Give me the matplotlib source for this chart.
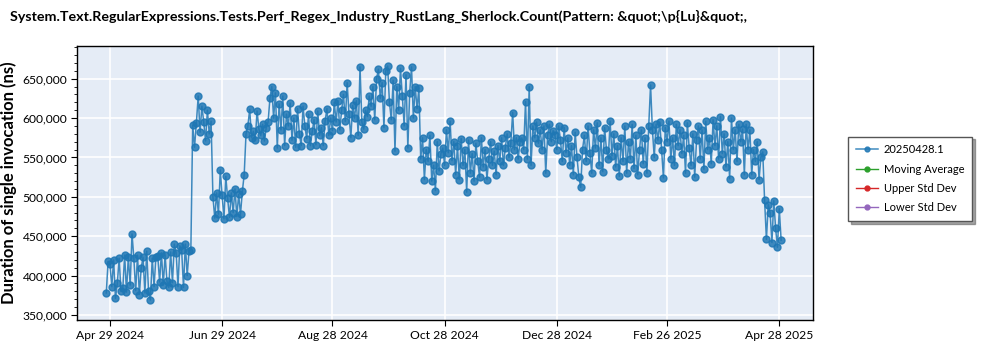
import matplotlib
matplotlib.use("Agg")
import matplotlib.pyplot as plt
import matplotlib.dates as mdates
from matplotlib.ticker import FuncFormatter, MultipleLocator
import pandas as pd

plt.rcParams['font.family'] = ['Lato', 'DejaVu Sans']

title = "System.Text.RegularExpressions.Tests.Perf_Regex_Industry_RustLang_Sherlock.Count(Pattern: &quot;\\p{Lu}&quot;,"
y_label = "Duration of single invocation (ns)"
series_names = ["20250428.1", "Moving Average", "Upper Std Dev", "Lower Std Dev"]
series_colors = ["#1f77b4", "#2ca02c", "#d62728", "#9467bd"]
first_day = "2024-04-27"
tick_dates = ["2024-04-29", "2024-06-29", "2024-08-28", "2024-10-28",
              "2024-12-28", "2025-02-26", "2025-04-28"]

duration_ns = [
    # Apr 27 - Jun 12 2024
    378000, 418000, 415000, 386000, 420000, 371000, 390000, 422000, 380000, 384000,
    426000, 379000, 424000, 388000, 453000, 422000, 381000, 426000, 376000, 410000,
    423000, 378000, 431000, 380000, 369000, 422000, 386000, 424000, 425000, 392000,
    429000, 388000, 426000, 393000, 385000, 430000, 391000, 440000, 429000, 386000,
    438000, 432000, 385000, 440000, 400000, 431000, 433000,
    # Jun 13 - Jun 23
    591000, 563000, 594000, 628000, 582000, 615000, 595000, 571000, 610000, 580000, 596000,
    # Jun 24 - Jul 11
    500000, 473000, 505000, 478000, 534000, 502000, 472000, 526000, 498000, 474000,
    505000, 480000, 510000, 475000, 503000, 478000, 507000, 528000,
    # Jul 12 - Jul 24
    580000, 590000, 611000, 575000, 583000, 572000, 609000, 586000, 578000, 592000,
    571000, 588000, 595000,
    # Jul 25 - Aug 4
    625000, 640000, 600000, 632000, 562000, 618000, 585000, 628000, 565000, 605000, 590000,
    # Aug 5 - Aug 29
    619000, 572000, 600000, 563000, 612000, 580000, 565000, 615000, 590000, 574000,
    605000, 565000, 583000, 598000, 566000, 609000, 578000, 588000, 565000, 596000,
    612000, 578000, 600000, 584000, 620000,
    # Aug 30 - Sep 15
    595000, 622000, 585000, 610000, 630000, 596000, 645000, 605000, 575000, 616000,
    600000, 622000, 578000, 665000, 595000, 586000, 610000,
    # Sep 16 - Oct 14
    602000, 628000, 615000, 640000, 598000, 650000, 662000, 625000, 645000, 588000,
    660000, 666000, 620000, 598000, 648000, 558000, 640000, 610000, 663000, 628000,
    590000, 655000, 562000, 632000, 665000, 600000, 640000, 612000, 638000,
    # Oct 15 - Nov 9
    548000, 575000, 522000, 560000, 545000, 578000, 520000, 540000, 508000, 570000,
    533000, 555000, 562000, 540000, 585000, 556000, 596000, 546000, 570000, 528000,
    565000, 522000, 574000, 540000, 560000, 506000,
    # Nov 10 - Dec 8
    572000, 530000, 555000, 520000, 568000, 545000, 525000, 575000, 538000, 560000,
    522000, 548000, 570000, 540000, 558000, 528000, 565000, 545000, 575000, 540000,
    562000, 580000, 550000, 568000, 607000, 560000, 575000, 548000, 570000,
    # Dec 9 - Dec 26
    575000, 560000, 621000, 548000, 640000, 540000, 590000, 575000, 595000, 568000,
    585000, 560000, 590000, 530000, 578000, 592000, 570000, 584000,
    # Dec 27 2024 - Feb 21 2025
    578000, 560000, 590000, 572000, 545000, 588000, 556000, 575000, 540000, 565000,
    528000, 582000, 550000, 525000, 512000, 560000, 578000, 545000, 590000, 556000,
    530000, 585000, 562000, 594000, 540000, 575000, 532000, 588000, 560000, 548000,
    596000, 552000, 580000, 538000, 565000, 526000, 575000, 545000, 590000, 530000,
    570000, 548000, 592000, 536000, 578000, 528000, 560000, 585000, 542000, 575000,
    530000, 590000, 642000, 585000, 550000, 592000, 572000,
    # Feb 22 - Apr 20 2025
    595000, 560000, 524000, 588000, 570000, 596000, 548000, 575000, 540000, 592000,
    565000, 585000, 555000, 578000, 530000, 594000, 562000, 540000, 580000, 525000,
    572000, 590000, 548000, 585000, 535000, 596000, 560000, 575000, 542000, 598000,
    565000, 590000, 548000, 602000, 555000, 580000, 538000, 570000, 523000, 600000,
    560000, 585000, 545000, 592000, 570000, 586000, 528000, 592000, 560000, 585000,
    528000, 560000, 545000, 570000, 522000, 550000, 557000,
    # Apr 21 - Apr 30 2025
    496000, 446000, 490000, 480000, 442000, 495000, 460000, 436000, 485000, 445000,
]

dates = pd.date_range(first_day, periods=len(duration_ns), freq="D")

fig = plt.figure(figsize=(10, 3.5), dpi=100)
ax = fig.add_axes([0.077, 0.0857, 0.736, 0.783])
ax.set_facecolor("#E5ECF6")

ax.plot(dates, duration_ns, color=series_colors[0], lw=1.1, marker="o",
        markersize=5, alpha=0.85, label=series_names[0], zorder=3)
for name, col in zip(series_names[1:], series_colors[1:]):
    ax.plot([], [], color=col, lw=1.0, marker="o", markersize=5, label=name)

ax.set_xlim(pd.Timestamp("2024-04-11 02:00"), pd.Timestamp("2025-05-16 08:00"))
ax.set_ylim(343640, 691570)

ax.set_xticks(pd.to_datetime(tick_dates))
ax.xaxis.set_major_formatter(mdates.DateFormatter("%b %d %Y"))
ax.yaxis.set_major_locator(MultipleLocator(50000))
ax.yaxis.set_minor_locator(MultipleLocator(10000))
ax.yaxis.set_major_formatter(FuncFormatter(lambda v, p: f"{int(v):,}"))

ax.grid(True, which="major", color="white", lw=1.2, zorder=0)
ax.set_axisbelow(True)
ax.tick_params(axis="both", which="major", labelsize=8.7, length=4, color="black", pad=3)
ax.tick_params(axis="y", which="minor", length=2)
for s in ax.spines.values():
    s.set_color("black")
    s.set_linewidth(1.0)

ax.set_ylabel(y_label, fontsize=12, fontweight="bold")
ax.yaxis.set_label_coords(-0.082, 0.5)
fig.text(0.010, 0.952, title, fontsize=10.3, fontweight="bold", ha="left", va="center")

leg = fig.legend(loc="upper left", bbox_to_anchor=(0.848, 0.610), fontsize=8,
                 frameon=True, fancybox=False, shadow=True, borderpad=0.7,
                 borderaxespad=0.0, markerscale=0.7,
                 labelspacing=0.75, handlelength=2.0, handletextpad=0.5)
leg.get_frame().set_edgecolor("#555555")
leg.get_frame().set_linewidth(1.0)

fig.savefig("out.png", dpi=100)
